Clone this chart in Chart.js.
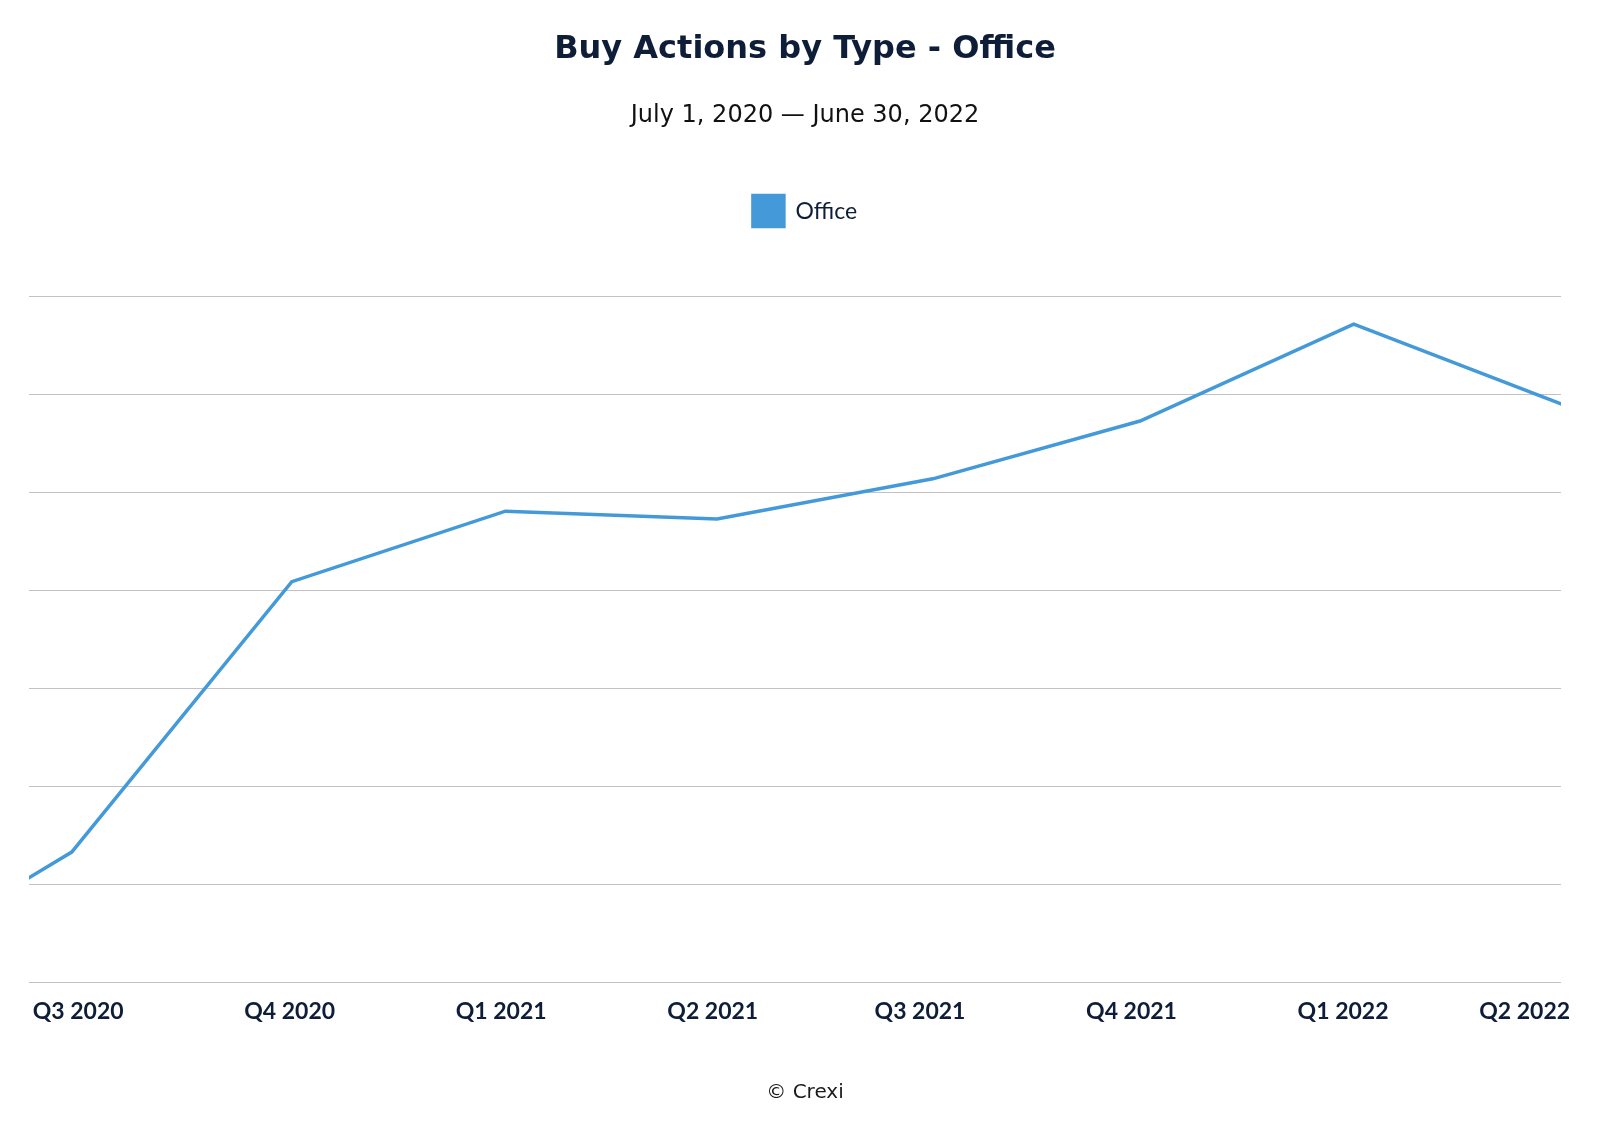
<!DOCTYPE html>
<html>
<head>
<meta charset="utf-8">
<title>Buy Actions by Type - Office</title>
<script src="https://cdn.jsdelivr.net/npm/chart.js@4/dist/chart.umd.min.js"></script>
<style>
    html, body { margin: 0; padding: 0; background: #fff; }
    #wrap { width: 1600px; height: 1127px; }
</style>
</head>
<body>
<div id="wrap"><canvas id="office-chart" width="1600" height="1127"></canvas></div>
<script>
/* ===== Buy Actions by Type - Office ===== */
var chartTitle = "Buy Actions by Type - Office";
var chartSubtitle = "July 1, 2020 \u2014 June 30, 2022";
var seriesName = "Office";
var footerText = "\u00a9 Crexi";

// quarter labels on the x axis and where each one sits (in quarters from Q3 2020)
var quarterLabels = ["Q3 2020", "Q4 2020", "Q1 2021", "Q2 2021", "Q3 2021", "Q4 2021", "Q1 2022", "Q2 2022"];
var quarterTickAt = [0.03, 1.02, 2.01, 3.0, 3.97, 4.96, 5.95, 6.8];

// position of each point (quarters from Q3 2020); the first and last run off the plot edges
var pointQuarters = [-1, 0, 1.03, 2.03, 3.02, 4.03, 5.0, 6.0, 7.0];
// values in grid steps (the original shows no y labels)
var officeValues = [0.02, 1.33, 4.09, 4.81, 4.73, 5.14, 5.73, 6.72, 5.88];

var yGridSteps = 7;

(function () {
    "use strict";

    var NAVY = "#0f1e38";
    var BLUE = "#449ad9";

    var points = pointQuarters.map(function (q, i) {
        return { x: q, y: officeValues[i] };
    });

    /* --- leave room between the legend and the plot --- */
    var legendGapPlugin = {
        id: "legendGap",
        beforeInit: function (chart) {
            var legend = chart.legend;
            if (!legend) return;
            var origFit = legend.fit;
            legend.fit = function () {
                origFit.call(this);
                this.height = 169;
            };
        }
    };

    /* --- copyright line under the axis, centred like the title --- */
    var footerPlugin = {
        id: "footerText",
        afterDraw: function (chart) {
            var ctx = chart.ctx;
            var tb = chart.titleBlock;
            var cx = tb ? (tb.left + tb.right) / 2 : chart.width / 2;
            ctx.save();
            ctx.font = "20px 'DejaVu Sans'";
            ctx.fillStyle = "#1b1b1b";
            ctx.textAlign = "center";
            ctx.textBaseline = "middle";
            ctx.fillText(footerText, cx, chart.height - 34);
            ctx.restore();
        }
    };

    new Chart(document.getElementById("office-chart"), {
        type: "line",
        data: {
            datasets: [{
                label: seriesName,
                data: points,
                borderColor: BLUE,
                backgroundColor: BLUE,
                borderWidth: 3.5,
                pointRadius: 0,
                pointHoverRadius: 0,
                tension: 0,
                fill: false,
                clip: 0
            }]
        },
        options: {
            responsive: false,
            animation: false,
            devicePixelRatio: 1,
            layout: {
                autoPadding: false,
                padding: { left: 29, right: 19, top: 0, bottom: 87 }
            },
            scales: {
                x: {
                    type: "linear",
                    min: -0.2,
                    max: 6.97,
                    grid: { display: false, drawTicks: false },
                    border: { display: false },
                    afterBuildTicks: function (axis) {
                        axis.ticks = quarterTickAt.map(function (v) { return { value: v }; });
                    },
                    ticks: {
                        padding: 15,
                        maxRotation: 0,
                        autoSkip: false,
                        color: NAVY,
                        font: { family: "Lato", size: 23, weight: "bold" },
                        callback: function (val, index) { return quarterLabels[index]; }
                    }
                },
                y: {
                    position: "right",
                    min: 0,
                    max: yGridSteps,
                    ticks: { display: false, stepSize: 1 },
                    grid: { color: "#c2c2c6", lineWidth: 1, drawTicks: false },
                    border: { display: false },
                    afterFit: function (scale) { scale.width = 20; }
                }
            },
            plugins: {
                title: {
                    display: true,
                    text: chartTitle,
                    color: NAVY,
                    font: { family: "DejaVu Sans", size: 32, weight: "bold", lineHeight: 1.2 },
                    padding: { top: 30.5, bottom: 0 }
                },
                subtitle: {
                    display: true,
                    text: chartSubtitle,
                    color: "#111111",
                    font: { family: "DejaVu Sans", size: 24, weight: "normal", lineHeight: 1 },
                    padding: { top: 34.7, bottom: 0 }
                },
                legend: {
                    display: true,
                    position: "top",
                    labels: {
                        boxWidth: 31,
                        boxHeight: 31,
                        padding: 68,
                        color: NAVY,
                        font: { family: "Lato", size: 23 }
                    }
                },
                tooltip: { enabled: false }
            }
        },
        plugins: [legendGapPlugin, footerPlugin]
    });
})();
</script>
</body>
</html>
